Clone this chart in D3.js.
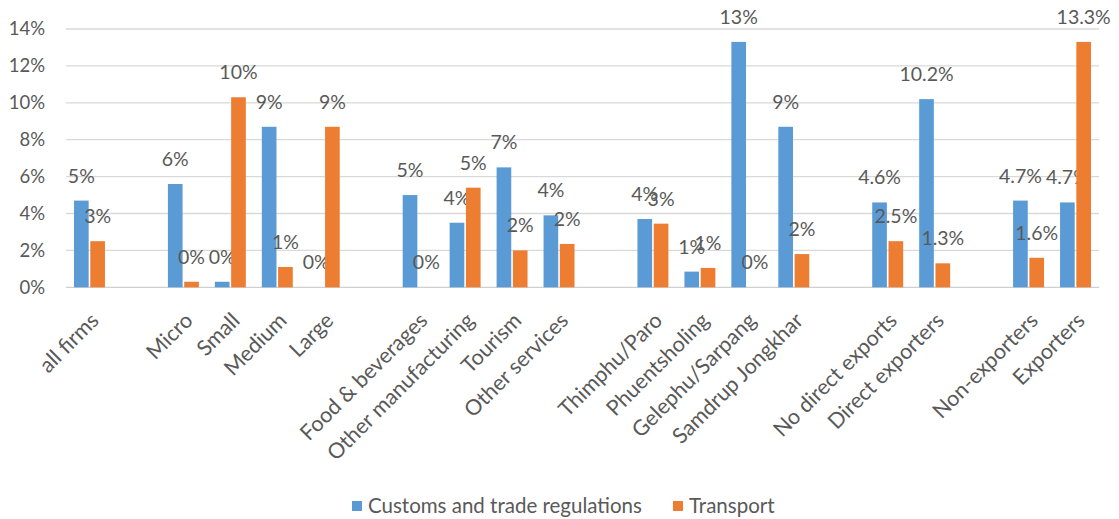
<!DOCTYPE html>
<html><head><meta charset="utf-8">
<script src="https://cdn.jsdelivr.net/npm/d3@7"></script>
<style>
html,body{margin:0;padding:0;background:#fff;}
text{font-family:Lato,"Open Sans",sans-serif;fill:#595959;}
</style></head>
<body><svg id="c" width="1119" height="519"></svg>
<script>
const categories = ["all firms","","Micro","Small","Medium","Large","","Food & beverages","Other manufacturing","Tourism","Other services","","Thimphu/Paro","Phuentsholing","Gelephu/Sarpang","Samdrup Jongkhar","","No direct exports","Direct exporters","","Non-exporters","Exporters"];
const customs = [4.7,null,5.6,0.3,8.7,0,null,5.0,3.5,6.5,3.9,null,3.7,0.85,13.3,8.7,null,4.6,10.2,null,4.7,4.6];
const transport = [2.5,null,0.3,10.3,1.1,8.7,null,0,5.4,2.0,2.35,null,3.45,1.05,0,1.8,null,2.5,1.3,null,1.6,13.3];
const customsLabels = ["5%","","6%","0%","9%","0%","","5%","4%","7%","4%","","4%","1%","13%","9%","","4.6%","10.2%","","4.7%","4.7%"];
const transportLabels = ["3%","","0%","10%","1%","9%","","0%","5%","2%","2%","","3%","1%","0%","2%","","2.5%","1.3%","","1.6%","13.3%"];
const seriesNames = ["Customs and trade regulations","Transport"];
const colors = ["#5B9BD5","#ED7D31"];
const yTicks = [0,2,4,6,8,10,12,14];

(function(){
const svg = d3.select("#c");
const pl = 66, pr = 1099, pt = 29, pb = 287.3;
const x = d3.scaleBand().domain(d3.range(categories.length)).range([pl,pr]);
const bw = x.bandwidth();
const x1 = d3.scaleBand().domain([0,1]).range([8, bw-8]).paddingInner(0.1);
const y = d3.scaleLinear().domain([0,14]).range([pb, pt]);

svg.append("g").selectAll("line").data(yTicks).join("line")
  .attr("x1",pl).attr("x2",pr)
  .attr("y1",d=>y(d)).attr("y2",d=>y(d))
  .attr("stroke",d=>d===0?"#D0D0D0":"#D9D9D9").attr("stroke-width",1.3);

const yAxis = d3.axisLeft(y).tickValues(yTicks).tickFormat(d=>d+"%").tickSize(0).tickPadding(0);
const ya = svg.append("g").attr("transform","translate(45,0)").call(yAxis);
ya.select(".domain").remove();
ya.selectAll("text").style("font-size","18.5px").attr("fill","#595959").style("font-family","Lato");

const allSeries = [customs, transport];
const allLabels = [customsLabels, transportLabels];
allSeries.forEach((vals,s)=>{
  const g = svg.append("g");
  const data = vals.map((v,i)=>({i,v,l:allLabels[s][i]})).filter(d=>d.v!==null);
  g.selectAll("rect").data(data).join("rect")
    .attr("x",d=>x(d.i)+x1(s)).attr("width",x1.bandwidth())
    .attr("y",d=>y(d.v)).attr("height",d=>pb-y(d.v))
    .attr("fill",colors[s]);
  g.selectAll("text").data(data).join("text")
    .attr("x",d=>x(d.i)+x1(s)+x1.bandwidth()/2)
    .attr("y",d=>y(d.v)-18)
    .attr("text-anchor","middle")
    .style("font-size","19.5px")
    .text(d=>d.l);
});

svg.append("g").selectAll("text").data(categories.map((c,i)=>({c,i})).filter(d=>d.c!==""))
  .join("text")
  .attr("transform",d=>`translate(${x(d.i)+bw/2},${pb+24}) rotate(-45)`)
  .attr("text-anchor","end").attr("dy","0.7em")
  .style("font-size","21.5px")
  .text(d=>d.c);

const leg = svg.append("g");
const legX = [352, 673];
seriesNames.forEach((n,s)=>{
  leg.append("rect").attr("x",legX[s]).attr("y",501).attr("width",10).attr("height",10).attr("fill",colors[s]);
  leg.append("text").attr("x",legX[s]+16).attr("y",513).style("font-size","20.5px").text(n);
});
})();
</script></body></html>
